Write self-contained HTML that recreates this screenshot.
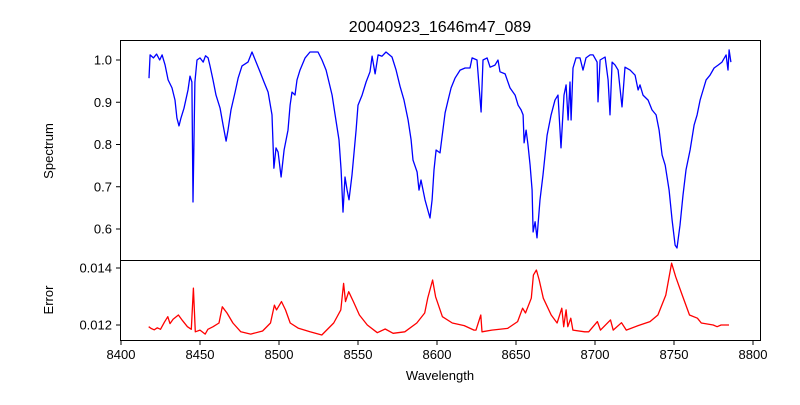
<!DOCTYPE html>
<html><head><meta charset="utf-8"><style>
body{margin:0;background:#fff}
svg text{font-family:"Liberation Sans","DejaVu Sans",sans-serif;fill:#000}
</style></head><body>
<svg id="chart" width="800" height="400" xmlns="http://www.w3.org/2000/svg">
<text x="440" y="32" font-size="16" text-anchor="middle">20040923_1646m47_089</text>
<g id="topPanel"></g>
<g id="botPanel"></g>
<text x="440" y="380" font-size="13" text-anchor="middle">Wavelength</text>
<text transform="translate(53,151) rotate(-90)" font-size="13" text-anchor="middle">Spectrum</text>
<text transform="translate(53,300) rotate(-90)" font-size="13" text-anchor="middle">Error</text>
</svg>
<script>
const specPoints=[[8417.7,.957],[8418.4,1.012],[8420.5,1.005],[8422.5,1.014],[8424.5,1.0],[8426,1.012],[8427.9,.988],[8429.8,.953],[8432.3,.934],[8434.2,.905],[8435.4,.863],[8436.7,.844],[8438,.863],[8439.9,.886],[8442.4,.929],[8443.7,.962],[8444.9,.948],[8445.6,.664],[8446.8,.948],[8448.1,1.0],[8450,1.005],[8452,.995],[8453.5,1.01],[8455.1,1.005],[8456.3,.986],[8458.2,.953],[8460.1,.917],[8462.7,.886],[8464.6,.846],[8466.5,.808],[8467.7,.834],[8469.6,.882],[8472.2,.924],[8474.1,.957],[8476.6,.986],[8480.4,.995],[8482.9,1.019],[8485.5,.995],[8488,.972],[8490.5,.948],[8493.1,.924],[8495.6,.870],[8496.8,.744],[8498.1,.792],[8499.4,.782],[8501.3,.723],[8503.2,.787],[8505.7,.834],[8507,.893],[8508.2,.924],[8510.1,.917],[8511.4,.953],[8513.3,.976],[8516.5,1.005],[8519.6,1.019],[8524.7,1.019],[8527.2,1.0],[8529.8,.976],[8533.6,.917],[8535.5,.870],[8538,.811],[8539.3,.740],[8540.5,.640],[8541.8,.723],[8543.1,.692],[8544.3,.669],[8546.2,.728],[8548.8,.834],[8550,.893],[8552.6,.917],[8555.1,.948],[8557.6,.972],[8558.9,1.009],[8560.8,.967],[8562.7,1.012],[8565.2,1.009],[8567.7,1.019],[8571.5,1.007],[8574.1,.976],[8576.6,.938],[8579.1,.905],[8581.7,.858],[8583.6,.811],[8584.8,.763],[8587.4,.735],[8588.6,.692],[8589.9,.716],[8592.4,.669],[8595.6,.626],[8596.9,.669],[8598.1,.740],[8599.4,.787],[8601.9,.780],[8605.1,.875],[8607,.905],[8608.9,.934],[8611.4,.957],[8614.6,.976],[8617.8,.981],[8620.9,.981],[8622.2,1.005],[8625.3,1.0],[8627.9,.877],[8629.1,1.0],[8631.7,1.005],[8633.6,.983],[8636.7,.988],[8638.6,1.0],[8639.9,.972],[8643.1,.967],[8646.2,.934],[8649.4,.917],[8651.3,.893],[8653.2,.882],[8654.5,.870],[8655.1,.804],[8656.4,.834],[8657.6,.799],[8658.9,.751],[8660.2,.692],[8660.8,.593],[8662.1,.617],[8663.3,.579],[8665.2,.669],[8667.1,.728],[8669.7,.822],[8672.2,.870],[8674.7,.905],[8676.6,.917],[8678.5,.792],[8680.4,.917],[8681.7,.941],[8683,.858],[8684.2,.948],[8684.9,.858],[8686.1,.981],[8688,1.005],[8690.5,1.005],[8692.4,.976],[8694.3,1.005],[8696.9,1.012],[8698.8,1.012],[8701.3,.995],[8701.9,.901],[8703.2,1.0],[8706.4,1.007],[8708.3,.953],[8709.5,.870],[8710.8,.995],[8712.7,.988],[8714.6,.976],[8717.1,.889],[8719,.983],[8722.2,.976],[8725.4,.964],[8727.3,.929],[8728.5,.941],[8730.4,.917],[8733.6,.905],[8736.1,.882],[8738.7,.870],[8740.6,.834],[8742.5,.775],[8744.4,.751],[8746.9,.692],[8748.8,.621],[8750.7,.562],[8751.9,.555],[8753.8,.609],[8755.7,.680],[8757.6,.740],[8760.2,.787],[8762.7,.846],[8764.6,.870],[8766.5,.905],[8768.4,.929],[8770.3,.953],[8772.8,.964],[8775.4,.981],[8777.9,.988],[8780.4,.995],[8783,1.012],[8784.2,.976],[8784.9,1.024],[8786,.995]];
const errPoints=[[8417.5,.01194],[8419,.01188],[8421,.01183],[8423,.01190],[8425,.01185],[8427.5,.01210],[8429.6,.01229],[8431,.01205],[8433,.01220],[8436.3,.01235],[8439,.01215],[8442,.01194],[8444.5,.01185],[8445.8,.01329],[8447,.01176],[8450,.01182],[8453.3,.01168],[8455,.01185],[8458.3,.01194],[8462,.01207],[8464.1,.01264],[8467.1,.01242],[8470.8,.01207],[8475.8,.01176],[8482.1,.01168],[8489.6,.01179],[8494.6,.01207],[8497.1,.0127],[8498.4,.01253],[8501.6,.01282],[8504.1,.01253],[8507.1,.01207],[8512.1,.01189],[8519.6,.01176],[8527.1,.01165],[8534.6,.01207],[8539.1,.01253],[8540.9,.01346],[8542.1,.01282],[8544.1,.01317],[8547.1,.01282],[8550.9,.01235],[8555.9,.0120],[8562.2,.01173],[8567.2,.01186],[8572.2,.01171],[8579.6,.01176],[8587.2,.01207],[8592.2,.01242],[8594.1,.01294],[8597.2,.01358],[8599.1,.01299],[8603.4,.01229],[8609.7,.01207],[8617.2,.01198],[8623.4,.01182],[8624.7,.01182],[8627.7,.01235],[8628.5,.01176],[8634.7,.01182],[8644.7,.01188],[8651,.01212],[8654.2,.01259],[8656,.01242],[8659.7,.01294],[8661,.01375],[8662.9,.01393],[8664.7,.01358],[8667.3,.01294],[8672.3,.01235],[8676,.01207],[8679,.01259],[8680.2,.01194],[8681.7,.01253],[8682.8,.01194],[8684.7,.01224],[8686,.01182],[8693.5,.01176],[8696,.01176],[8701.5,.01212],[8703.5,.01182],[8709.8,.01218],[8711.5,.01182],[8716.8,.01208],[8719.8,.01182],[8727.3,.01198],[8734.8,.01212],[8739.8,.01235],[8744.8,.01305],[8748.5,.01417],[8751.1,.01369],[8754.8,.01311],[8759.8,.01235],[8764.8,.01224],[8767.3,.01207],[8774.8,.0120],[8777.3,.01194],[8779.8,.0120],[8784.8,.0120]];
const xTicks=[8400,8450,8500,8550,8600,8650,8700,8750,8800];
const topTicks=[0.6,0.7,0.8,0.9,1.0];
const botTicks=[0.012,0.014];

const NS="http://www.w3.org/2000/svg";
const X=w=>121+(w-8400)*79/50;
const YT=v=>60+(1.0-v)*422.5;
const YB=v=>325-(v-0.012)*28500;
function mk(p,tag,a){const e=document.createElementNS(NS,tag);for(const k in a)e.setAttribute(k,a[k]);p.appendChild(e);return e;}
function pathOf(pts,fy){return pts.map((p,i)=>(i?'L':'M')+X(p[0]).toFixed(1)+','+fy(p[1]).toFixed(1)).join('');}
const topG=document.getElementById('topPanel'),botG=document.getElementById('botPanel');
let l1=mk(topG,'path',{d:pathOf(specPoints,YT),fill:'none',stroke:'#0000ff','stroke-width':1.3,'stroke-linejoin':'round'});


let l2=mk(botG,'path',{d:pathOf(errPoints,YB),fill:'none',stroke:'#ff0000','stroke-width':1.3,'stroke-linejoin':'round'});


let f1=mk(topG,'rect',{x:120.5,y:40.5,width:640,height:220,fill:'none',stroke:'#000','stroke-width':1});


let f2=mk(botG,'rect',{x:120.5,y:260.5,width:640,height:80,fill:'none',stroke:'#000','stroke-width':1});


topTicks.forEach(v=>{const y=YT(v);
 mk(topG,'line',{x1:116,x2:120.5,y1:y,y2:y,stroke:'#000'});
 const t=mk(topG,'text',{x:112,y:y+4.5,'font-size':13,'text-anchor':'end'});t.textContent=v.toFixed(1);
 
 });
botTicks.forEach(v=>{const y=YB(v);
 mk(botG,'line',{x1:116,x2:120.5,y1:y,y2:y,stroke:'#000'});
 const t=mk(botG,'text',{x:112,y:y+4.5,'font-size':13,'text-anchor':'end'});t.textContent=v.toFixed(3);
 
 });
xTicks.forEach(w=>{const x=X(w);
 mk(botG,'line',{x1:x,x2:x,y1:340.5,y2:345,stroke:'#000'});
 const t=mk(botG,'text',{x:x,y:359,'font-size':13,'text-anchor':'middle'});t.textContent=w;
 
 });
</script>
</body></html>
